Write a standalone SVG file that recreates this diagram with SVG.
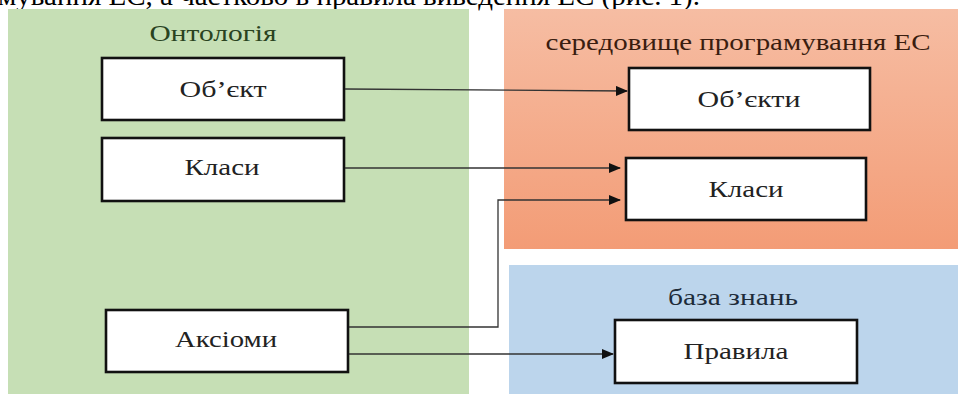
<svg xmlns="http://www.w3.org/2000/svg" width="958" height="394" viewBox="0 0 958 394">
<defs>
<linearGradient id="og" x1="0" y1="0" x2="0" y2="1">
<stop offset="0" stop-color="#f6bda3"/>
<stop offset="1" stop-color="#f39c76"/>
</linearGradient>
<marker id="arr" markerWidth="12" markerHeight="10" refX="11" refY="5" orient="auto" markerUnits="userSpaceOnUse">
<path d="M0,0 L12,5 L0,10 Z" fill="#111"/>
</marker>
<style>
text{font-family:"Liberation Serif","Times New Roman",serif;text-anchor:middle}
.box{fill:#fff;stroke:#111;stroke-width:2.6}
.lbl{font-size:24px;fill:#222}
.ttl{font-size:23px}
.con{fill:none;stroke:#333;stroke-width:1.3;marker-end:url(#arr)}
</style>
</defs>
<rect width="958" height="394" fill="#fff"/>
<text x="700" y="5" style="font-size:28px;text-anchor:end;fill:#000" textLength="702" lengthAdjust="spacingAndGlyphs">мування ЕС, а частково в правила виведення ЕС (рис. 1).</text>
<g id="ontology">
<rect x="8" y="9" width="461" height="385" fill="#c6dfb5"/>
<text class="ttl" x="213" y="41" fill="#29431f" textLength="127" lengthAdjust="spacingAndGlyphs">Онтологія</text>
</g>
<g id="env">
<rect x="504" y="9" width="454" height="240" fill="url(#og)"/>
<text class="ttl" x="738" y="50" fill="#3a1d10" textLength="385" lengthAdjust="spacingAndGlyphs">середовище програмування ЕС</text>
</g>
<g id="kb">
<rect x="509" y="265" width="449" height="129" fill="#bcd5ec"/>
<text class="ttl" x="733" y="305" fill="#1e2c3a" textLength="130" lengthAdjust="spacingAndGlyphs">база знань</text>
</g>
<g id="obj">
<rect class="box" x="102" y="58" width="242" height="62"/>
<text class="lbl" x="223" y="97" textLength="87" lengthAdjust="spacingAndGlyphs">Об’єкт</text>
</g>
<g id="cls">
<rect class="box" x="102" y="138" width="242" height="63"/>
<text class="lbl" x="222" y="175" textLength="75" lengthAdjust="spacingAndGlyphs">Класи</text>
</g>
<g id="axioms">
<rect class="box" x="106" y="310" width="242" height="62"/>
<text class="lbl" x="226" y="347" textLength="102" lengthAdjust="spacingAndGlyphs">Аксіоми</text>
</g>
<g id="objs">
<rect class="box" x="629" y="68" width="241" height="62"/>
<text class="lbl" x="749" y="107" textLength="103" lengthAdjust="spacingAndGlyphs">Об’єкти</text>
</g>
<g id="cls2">
<rect class="box" x="626" y="158" width="240" height="62"/>
<text class="lbl" x="746" y="197" textLength="75" lengthAdjust="spacingAndGlyphs">Класи</text>
</g>
<g id="rules">
<rect class="box" x="615" y="320" width="242" height="63"/>
<text class="lbl" x="736" y="359" textLength="105" lengthAdjust="spacingAndGlyphs">Правила</text>
</g>
<g id="connectors">
<path class="con" d="M345,89 L627,91"/>
<path class="con" d="M345,168 L620,168"/>
<path class="con" d="M349,327 L498,327 L498,200 L620,200"/>
<path class="con" d="M349,354 L613,354"/>
</g>
</svg>
